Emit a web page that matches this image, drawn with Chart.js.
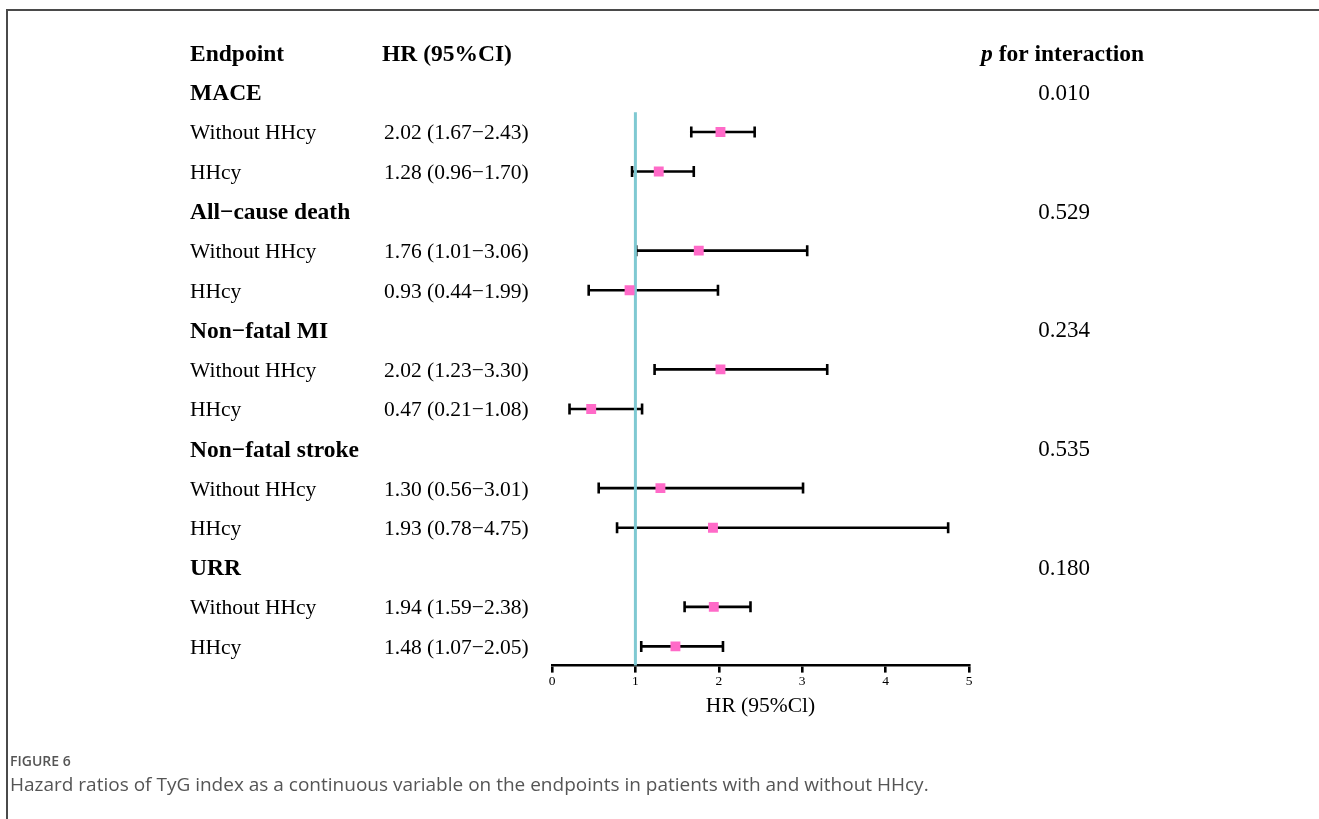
<!DOCTYPE html>
<html>
<head>
<meta charset="utf-8">
<script src="https://cdn.jsdelivr.net/npm/chart.js@4.4.1/dist/chart.umd.min.js"></script>
<style>
  html, body { margin: 0; padding: 0; background: #fff; }
  #wrap { position: relative; width: 1319px; height: 819px; overflow: hidden; }
  #plot { position: absolute; left: 0; top: 0; width: 1319px; height: 819px; }
  .frame-top { position: absolute; left: 6px; top: 9px; width: 1313px; height: 2px; background: #4a4a4a; }
  .frame-left { position: absolute; left: 6px; top: 9px; width: 2px; height: 810px; background: #4a4a4a; }
  .fig-no { position: absolute; left: 10px; top: 751px; font-family: "Open Sans", sans-serif; font-size: 14px; line-height: 19px; font-weight: 600; color: #555; }
  .fig-cap { position: absolute; left: 10px; top: 771px; font-family: "Open Sans", sans-serif; font-size: 19px; line-height: 26px; color: #555; white-space: nowrap; }
</style>
</head>
<body>
<div id="wrap">
  <div class="frame-top"></div>
  <div class="frame-left"></div>
  <canvas id="plot" width="1319" height="819"></canvas>
  <div class="fig-no">FIGURE 6</div>
  <div class="fig-cap">Hazard ratios of TyG index as a continuous variable on the endpoints in patients with and without HHcy.</div>
</div>
<script>
// Endpoints and subgroups
const endpoints = ['MACE', 'All\u2212cause death', 'Non\u2212fatal MI', 'Non\u2212fatal stroke', 'URR'];
const subgroups = ['Without HHcy', 'HHcy'];
// Hazard ratios and 95% CI bounds, ordered endpoint by endpoint (Without HHcy, HHcy)
const hr    = [2.02, 1.28, 1.76, 0.93, 2.02, 0.47, 1.30, 1.93, 1.94, 1.48];
const lower = [1.67, 0.96, 1.01, 0.44, 1.23, 0.21, 0.56, 0.78, 1.59, 1.07];
const upper = [2.43, 1.70, 3.06, 1.99, 3.30, 1.08, 3.01, 4.75, 2.38, 2.05];
// p for interaction per endpoint
const pInteraction = ['0.010', '0.529', '0.234', '0.535', '0.180'];
// x axis ticks
const xTicks = [0, 1, 2, 3, 4, 5];

const SERIF = '"Liberation Serif", "Times New Roman", serif';
const BOLD = 'bold 23.5px ' + SERIF;
const REG = '21.5px ' + SERIF;
const fmt = v => v.toFixed(2);

// Row layout: row 0 = header, then per endpoint one title row + one row per subgroup
const rows = [];
endpoints.forEach((ep, g) => {
  rows.push({ type: 'group', label: ep, p: pInteraction[g], row: 1 + g * 3 });
  subgroups.forEach((sg, s) => {
    const i = g * subgroups.length + s;
    rows.push({ type: 'item', label: sg, i, row: 2 + g * 3 + s });
  });
});
const items = rows.filter(r => r.type === 'item');

const points = items.map(r => ({ x: hr[r.i], y: r.row }));

// Text columns beside the plot
const textColumns = {
  id: 'textColumns',
  afterDraw(chart) {
    const ctx = chart.ctx;
    const y = chart.scales.y;
    ctx.save();
    ctx.fillStyle = '#000';
    ctx.textBaseline = 'alphabetic';
    ctx.textAlign = 'left';
    const hy = y.getPixelForValue(0) + 8.5;
    ctx.font = BOLD;
    ctx.fillText('Endpoint', 190, hy);
    ctx.fillText('HR (95%CI)', 382, hy);
    ctx.font = 'italic ' + BOLD;
    ctx.fillText('p', 981, hy);
    const pw = ctx.measureText('p').width;
    ctx.font = BOLD;
    ctx.fillText(' for interaction', 981 + pw, hy);

    rows.forEach(r => {
      const py = y.getPixelForValue(r.row) + 7.5;
      if (r.type === 'group') {
        ctx.font = BOLD;
        ctx.textAlign = 'left';
        ctx.fillText(r.label, 190, py + 0.5);
        ctx.font = '23px ' + SERIF;
        ctx.textAlign = 'center';
        ctx.fillText(r.p, 1064, py);
      } else {
        ctx.font = REG;
        ctx.textAlign = 'left';
        ctx.fillText(r.label, 190, py);
        ctx.fillText(fmt(hr[r.i]) + ' (' + fmt(lower[r.i]) + '\u2212' + fmt(upper[r.i]) + ')', 384, py);
      }
    });
    ctx.restore();
  }
};

// Confidence interval whiskers and the HR = 1 reference line
const intervals = {
  id: 'intervals',
  beforeDatasetsDraw(chart) {
    const ctx = chart.ctx;
    const x = chart.scales.x, y = chart.scales.y;
    ctx.save();
    ctx.strokeStyle = '#000';
    ctx.lineWidth = 2.6;
    items.forEach(r => {
      const py = y.getPixelForValue(r.row);
      const x0 = x.getPixelForValue(lower[r.i]);
      const x1 = x.getPixelForValue(upper[r.i]);
      ctx.beginPath();
      ctx.moveTo(x0, py); ctx.lineTo(x1, py);
      ctx.moveTo(x0, py - 5.5); ctx.lineTo(x0, py + 5.5);
      ctx.moveTo(x1, py - 5.5); ctx.lineTo(x1, py + 5.5);
      ctx.stroke();
    });
    // reference line at HR = 1
    const rx = x.getPixelForValue(1);
    ctx.strokeStyle = '#7fc9d2';
    ctx.lineWidth = 3;
    ctx.beginPath();
    ctx.moveTo(rx, y.getPixelForValue(1.5));
    ctx.lineTo(rx, chart.chartArea.bottom);
    ctx.stroke();
    ctx.restore();
  }
};

new Chart(document.getElementById('plot'), {
  type: 'scatter',
  data: {
    datasets: [{
      data: points,
      pointStyle: 'rect',
      pointRadius: 7,
      pointHoverRadius: 7,
      backgroundColor: '#ff6ac8',
      borderWidth: 0
    }]
  },
  options: {
    responsive: false,
    animation: false,
    events: [],
    layout: { padding: { left: 552, right: 350, top: 13.2, bottom: 99.4 } },
    plugins: { legend: { display: false }, tooltip: { enabled: false } },
    scales: {
      x: {
        type: 'linear',
        min: 0, max: 5,
        afterBuildTicks(scale) { scale.ticks = xTicks.map(v => ({ value: v })); },
        afterFit(scale) { scale.height = 720 - 666; },
        border: { display: true, color: '#000', width: 2.6 },
        grid: { display: true, drawOnChartArea: false, drawTicks: true, tickLength: 7, lineWidth: 2.6, color: '#000' },
        ticks: { color: '#000', font: { family: SERIF, size: 13.5 }, padding: 1 },
        title: { display: true, text: 'HR (95%Cl)', color: '#000', font: { family: SERIF, size: 21.5 }, padding: { top: 0, bottom: 0 } }
      },
      y: {
        type: 'linear',
        display: false,
        reverse: true,
        min: -1, max: 15.485
      }
    }
  },
  plugins: [intervals, textColumns]
});
</script>
</body>
</html>
